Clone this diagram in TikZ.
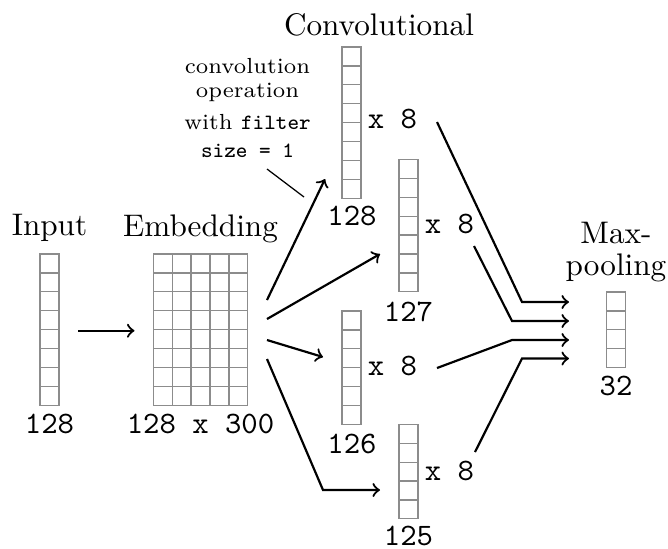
\documentclass[tikz,border=0pt]{standalone}
\begin{document}
\begin{tikzpicture}[x=0.3205pt,y=-0.3205pt,
  cell/.style={draw=black!45,line width=0.4pt},
  conn/.style={line width=0.7pt,->},
  lbl/.style={anchor=base,inner sep=0pt},
  num/.style={anchor=base,inner sep=0pt,font=\ttfamily},
  note/.style={anchor=base,inner sep=0pt,font=\scriptsize}]
\useasboundingbox (0,0) rectangle (668,548);
\def\cs{18.9}
% columns: x, top y, number of cells
\foreach \cx/\cy/\n in {40/254/8, 342/47/8, 399/159.5/7, 342/311/6, 399/424.3/5, 606.5/292/4}{
  \foreach \i in {1,...,\n}{
    \draw[cell] (\cx,{\cy+(\i-1)*\cs}) rectangle ++(\cs,\cs);
  }
}
% embedding grid
\foreach \r in {1,...,8}{
  \foreach \c in {1,...,5}{
    \draw[cell] ({153.3+(\c-1)*\cs},{254+(\r-1)*\cs}) rectangle ++(\cs,\cs);
  }
}
% labels
\node[lbl] (tInput) at (49.5,235) {Input};
\node[lbl] (tEmb) at (200.5,236) {Embedding};
\node[lbl] (tConv) at (379,35) {Convolutional};
\node[lbl] (tMax) at (616,243) {Max-};
\node[lbl] (tPool) at (616,275) {pooling};
\node[num] (n128a) at (49.5,433) {128};
\node[num] (n128x) at (200.5,433) {128 x 300};
\node[num] (n128b) at (352,225) {128};
\node[num] (n127) at (408.5,321) {127};
\node[num] (n126) at (352,453) {126};
\node[num] (n125) at (408.5,545) {125};
\node[num] (n32) at (616,395) {32};
\node[num] (x1) at (392.5,128) {x 8};
\node[num] (x2) at (449.5,233) {x 8};
\node[num] (x3) at (392.5,375) {x 8};
\node[num] (x4) at (449.5,480) {x 8};
\node[note] (a1) at (247.5,73) {convolution};
\node[note] (a2) at (247.5,97) {operation};
\node[note] (a3) at (247.5,129) {with \texttt{filter}};
\node[note] (a4) at (247.5,157) {\texttt{size = 1}};
% connector endpoints
\coordinate (ia) at (78,330.7);
\coordinate (ib) at (134.5,330.7);
\coordinate (e1) at (267,300);
\coordinate (e2) at (267,319);
\coordinate (e3) at (267,340);
\coordinate (e4) at (267,359);
\coordinate (c1) at (325,179);
\coordinate (c2) at (380,254);
\coordinate (c3) at (323,357);
\coordinate (c4b) at (323,490);
\coordinate (c4) at (380,490);
\coordinate (m1s) at (437,122);
\coordinate (m1b) at (522,302);
\coordinate (m1) at (569,302);
\coordinate (m2s) at (474,246);
\coordinate (m2b) at (512,321);
\coordinate (m2) at (569,321);
\coordinate (m3s) at (437,368);
\coordinate (m3b) at (512,340);
\coordinate (m3) at (569,340);
\coordinate (m4s) at (475,452);
\coordinate (m4b) at (522,358.5);
\coordinate (m4) at (569,358.5);
\coordinate (ns) at (267,169);
\coordinate (ne) at (304,197);
% connectors
\draw[conn] (ia) -- (ib);
\draw[conn] (e1) -- (c1);
\draw[conn] (e2) -- (c2);
\draw[conn] (e3) -- (c3);
\draw[conn] (e4) -- (c4b) -- (c4);
\draw[conn] (m1s) -- (m1b) -- (m1);
\draw[conn] (m2s) -- (m2b) -- (m2);
\draw[conn] (m3s) -- (m3b) -- (m3);
\draw[conn] (m4s) -- (m4b) -- (m4);
\draw[line width=0.4pt] (ns) -- (ne);
\end{tikzpicture}
\end{document}
